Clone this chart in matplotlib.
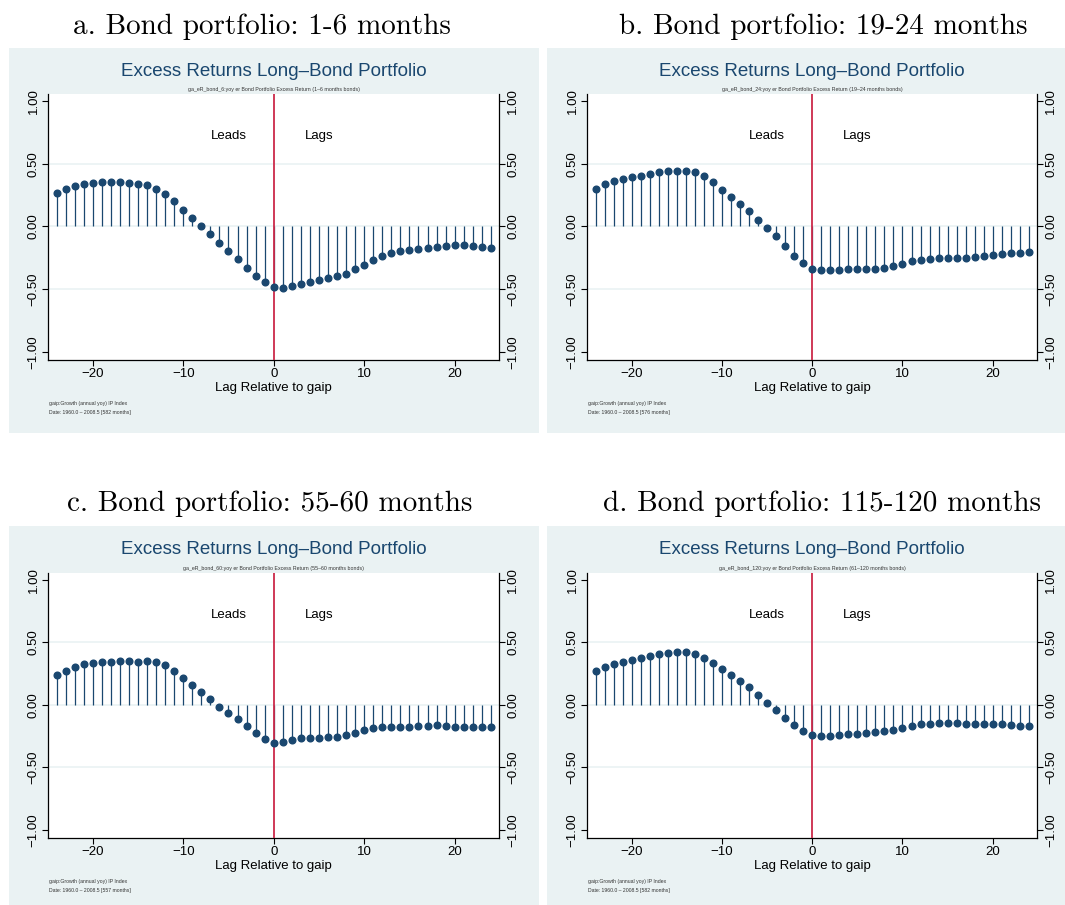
import matplotlib
matplotlib.use("Agg")
import matplotlib.pyplot as plt
import numpy as np
from matplotlib.patches import Rectangle
from matplotlib.ticker import FuncFormatter

plt.rcParams['font.family'] = ['Liberation Sans', 'DejaVu Sans']

# lags -24..24 of the cross-correlation with gaip
lags = np.arange(-24, 25)

# a. 1-6 months
corr_6 = [0.270, 0.300, 0.326, 0.337, 0.345, 0.350, 0.353, 0.353, 0.348, 0.337,
          0.329, 0.300, 0.262, 0.206, 0.134, 0.064, 0.000, -0.064, -0.134, -0.195,
          -0.259, -0.329, -0.396, -0.447, -0.484, -0.489, -0.479, -0.460, -0.444, -0.425,
          -0.409, -0.396, -0.377, -0.342, -0.305, -0.265, -0.233, -0.214, -0.198, -0.190,
          -0.179, -0.171, -0.166, -0.158, -0.152, -0.152, -0.155, -0.166, -0.171]
# b. 19-24 months
corr_24 = [0.302, 0.337, 0.364, 0.377, 0.390, 0.404, 0.420, 0.433, 0.439, 0.444,
           0.444, 0.430, 0.404, 0.350, 0.289, 0.235, 0.179, 0.120, 0.053, -0.013,
           -0.080, -0.158, -0.233, -0.291, -0.337, -0.348, -0.350, -0.348, -0.342, -0.340,
           -0.340, -0.340, -0.334, -0.318, -0.297, -0.275, -0.265, -0.257, -0.251, -0.249,
           -0.249, -0.249, -0.243, -0.233, -0.227, -0.219, -0.214, -0.214, -0.206]
# c. 55-60 months
corr_60 = [0.242, 0.274, 0.306, 0.331, 0.339, 0.344, 0.347, 0.352, 0.349, 0.347,
           0.352, 0.344, 0.323, 0.272, 0.212, 0.161, 0.105, 0.046, -0.019, -0.065,
           -0.110, -0.169, -0.223, -0.272, -0.309, -0.301, -0.285, -0.269, -0.269, -0.266,
           -0.258, -0.255, -0.245, -0.226, -0.202, -0.185, -0.180, -0.175, -0.175, -0.175,
           -0.172, -0.167, -0.164, -0.169, -0.175, -0.177, -0.177, -0.180, -0.177]
# d. 115-120 months
corr_120 = [0.274, 0.306, 0.331, 0.347, 0.363, 0.376, 0.392, 0.409, 0.419, 0.425,
            0.425, 0.409, 0.379, 0.339, 0.288, 0.239, 0.188, 0.140, 0.081, 0.019,
            -0.040, -0.105, -0.164, -0.207, -0.242, -0.250, -0.247, -0.242, -0.237, -0.231,
            -0.223, -0.218, -0.210, -0.199, -0.183, -0.167, -0.153, -0.151, -0.145, -0.145,
            -0.148, -0.151, -0.153, -0.153, -0.153, -0.153, -0.159, -0.167, -0.169]

panel_titles = ["a. Bond portfolio: 1-6 months", "b. Bond portfolio: 19-24 months",
                "c. Bond portfolio: 55-60 months", "d. Bond portfolio: 115-120 months"]
var_notes = ["ga_eR_bond_6:yoy er Bond Portfolio Excess Return (1\u20136 months bonds)",
             "ga_eR_bond_24:yoy er Bond Portfolio Excess Return (19\u201324 months bonds)",
             "ga_eR_bond_60:yoy er Bond Portfolio Excess Return (55\u201360 months bonds)",
             "ga_eR_bond_120:yoy er Bond Portfolio Excess Return (61\u2013120 months bonds)"]
n_months = [582, 576, 557, 582]
series = [corr_6, corr_24, corr_60, corr_120]

W, H = 1065, 905
NAVY = '#1a476f'
BG = '#eaf2f3'
RED = '#cc2a4a'

fig = plt.figure(figsize=(W / 100, H / 100), dpi=100)


def frac(x0, y0, x1, y1):
    return [x0 / W, 1 - y1 / H, (x1 - x0) / W, (y1 - y0) / H]


# pixel layout: background box, plot area, title centre
boxes = [(9, 48, 539, 433), (547, 48, 1065, 433), (9, 526, 539, 905), (547, 526, 1065, 905)]
plots = [(48, 94, 499, 360), (587, 94, 1037, 360), (48, 573, 499, 838), (587, 573, 1037, 838)]
head = [(262, 27), (823, 27), (270, 504), (822, 504)]

fmt = FuncFormatter(lambda v, p: f"{v:.2f}".replace('-', '\u2212'))

for i in range(4):
    bx0, by0, bx1, by1 = boxes[i]
    fig.patches.append(Rectangle((bx0 / W, 1 - by1 / H), (bx1 - bx0) / W, (by1 - by0) / H,
                                 transform=fig.transFigure, facecolor=BG, edgecolor='none', zorder=-5))
    px0, py0, px1, py1 = plots[i]
    ax = fig.add_axes(frac(px0, py0, px1, py1))
    ax.set_zorder(2)
    ax.set_facecolor('white')
    vals = np.array(series[i])

    for g in (-0.5, 0.0, 0.5):
        ax.axhline(g, color=BG, lw=1.2, zorder=1)
    ax.vlines(lags, 0, vals, color=NAVY, lw=0.9, zorder=2)
    ax.axvline(0, color=RED, lw=1.3, zorder=3)
    ax.plot(lags, vals, 'o', color=NAVY, ms=4.8, mec=NAVY, zorder=4)

    ax.text(-5, 0.72, "Leads", ha='center', va='center', fontsize=9.5)
    ax.text(5, 0.72, "Lags", ha='center', va='center', fontsize=9.5)

    ax.set_xlim(-24.95, 24.9)
    ax.set_ylim(-1.066, 1.056)
    ax.set_xticks([-20, -10, 0, 10, 20])
    ax.set_yticks([-1, -0.5, 0, 0.5, 1])
    ax.yaxis.set_major_formatter(fmt)
    ax.tick_params(axis='x', direction='out', length=4, width=0.8, labelsize=9.5, pad=2)
    ax.tick_params(axis='y', direction='out', length=4, width=0.8, labelsize=9.5,
                   labelrotation=90, right=True, labelright=True, pad=2)
    for t in ax.yaxis.get_major_ticks():
        t.label1.set_verticalalignment('center')
        t.label2.set_verticalalignment('center')
    ax.spines['top'].set_visible(False)
    for s in ('left', 'right', 'bottom'):
        ax.spines[s].set_linewidth(0.9)
    ax.set_xlabel("Lag Relative to gaip", fontsize=9.5, labelpad=1)

    cx = (px0 + px1) / 2
    fig.text(cx / W, 1 - 71 / H - (py0 - 94) / H, "Excess Returns Long\u2013Bond Portfolio",
             ha='center', va='center', fontsize=13.5, color=NAVY)
    fig.text(cx / W, 1 - (py0 - 5) / H, var_notes[i], ha='center', va='center',
             fontsize=3.8, color='#333333')
    fig.text(49 / W + (px0 - 48) / W, 1 - (py1 + 43) / H, "gaip:Growth (annual yoy) IP Index",
             ha='left', va='center', fontsize=3.7, color='#333333')
    fig.text(49 / W + (px0 - 48) / W, 1 - (py1 + 52) / H,
             f"Date: 1960.0 \u2013 2008.5 [{n_months[i]} months]",
             ha='left', va='center', fontsize=3.7, color='#333333')

    hx, hy = head[i]
    fig.text(hx / W, 1 - hy / H, panel_titles[i], ha='center', va='center',
             fontsize=21, family='cmr10')

fig.savefig("out.png", dpi=100)
